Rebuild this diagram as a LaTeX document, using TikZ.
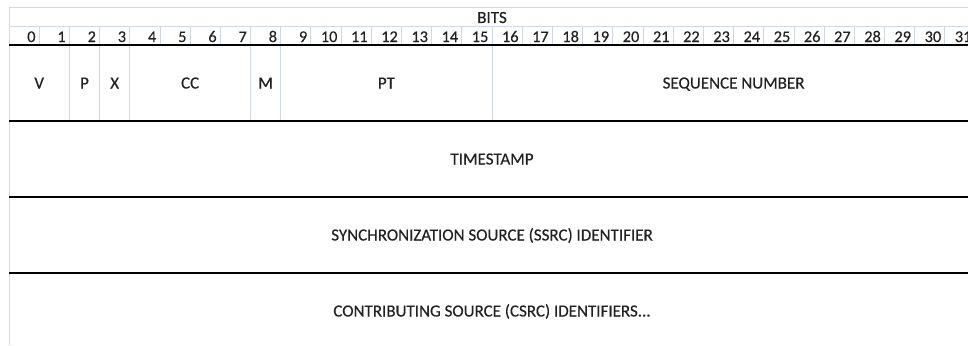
\documentclass[tikz,border=0pt]{standalone}
\usepackage{fontspec}
\setmainfont[FakeBold=0.35]{Carlito}
\definecolor{gridblue}{HTML}{D0D8E6}
\definecolor{txt}{HTML}{222222}
\begin{document}
\begin{tikzpicture}[x=1pt,y=-1pt,
  gridline/.style={draw=gridblue, line width=0.9pt},
  rule/.style={draw=black, line width=1.5pt},
  lbl/.style={font=\fontsize{17}{20}\selectfont, text=txt, inner sep=0pt, anchor=base},
  num/.style={lbl, font=\fontsize{16.3}{19}\selectfont, anchor=base east}]
\useasboundingbox[fill=white] (0,0) rectangle (968,345);
\def\cw{30.19}
\def\xo{9}
% sheet gridlines
\draw[gridline] (\xo,7) -- (968,7);
\draw[gridline] (\xo,26) -- (968,26);
\draw[gridline] (\xo,7) -- (\xo,345);
% one cell per bit in the numbering row
\foreach \i in {1,...,31}
  \draw[gridline] ({\xo+\i*\cw},26) -- ({\xo+\i*\cw},45);
% field boundaries in the first header word
\foreach \i in {2,3,4,8,9,16}
  \draw[gridline] ({\xo+\i*\cw},45) -- ({\xo+\i*\cw},121);
% word separators
\foreach \y in {45,121,197,273}
  \draw[rule] (\xo,\y) -- (968,\y);
% title and bit numbers
\node[lbl] (bits) at ({\xo+16*\cw},23) {BITS};
\foreach \i in {0,...,31}
  \node[num] (b\i) at ({\xo+(\i+1)*\cw-3.5},42) {\i};
% header fields
\node[lbl] (v)   at ({\xo+1*\cw},88.5)    {V};
\node[lbl] (p)   at ({\xo+2.5*\cw},88.5)  {P};
\node[lbl] (x)   at ({\xo+3.5*\cw},88.5)  {X};
\node[lbl] (cc)  at ({\xo+6*\cw},88.5)    {CC};
\node[lbl] (m)   at ({\xo+8.5*\cw},88.5)  {M};
\node[lbl] (pt)  at ({\xo+12.5*\cw},88.5) {PT};
\node[lbl] (seq) at ({\xo+24*\cw},88.5)   {SEQUENCE NUMBER};
\node[lbl] (ts)  at ({\xo+16*\cw},164.5)  {TIMESTAMP};
\node[lbl] (ssrc) at ({\xo+16*\cw},240.5) {SYNCHRONIZATION SOURCE (SSRC) IDENTIFIER};
\node[lbl] (csrc) at ({\xo+16*\cw},316.5) {CONTRIBUTING SOURCE (CSRC) IDENTIFIERS...};
\end{tikzpicture}
\end{document}
